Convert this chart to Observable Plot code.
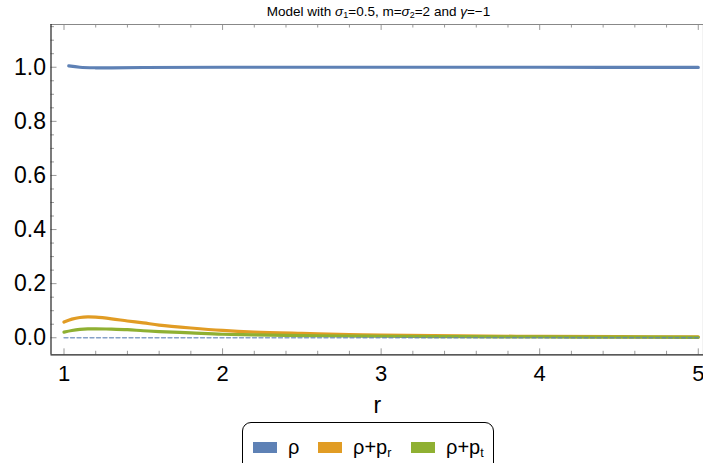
<!DOCTYPE html>
<html>
<head>
<meta charset="utf-8">
<script src="https://cdn.jsdelivr.net/npm/d3@7"></script>
<script src="https://cdn.jsdelivr.net/npm/@observablehq/plot@0.6"></script>
<style>
  body { margin: 0; background: #fff; font-family: "Liberation Sans", Arial, sans-serif; }
  #wrap { position: relative; width: 703px; height: 463px; overflow: hidden; }
  #title { position: absolute; top: 4px; left: 52px; width: 653px; text-align: center; font-size: 13.5px; color: #000; white-space: nowrap; }
  #title sub { font-size: 9px; vertical-align: -2px; line-height: 0; }
  #legend { position: absolute; left: 242px; top: 422px; width: 252px; height: 60px; border: 1px solid #000; border-radius: 9px; box-sizing: border-box; }
  .item { position: absolute; top: 13px; display: flex; align-items: center; font-size: 20px; color: #000; }
  .sw { width: 24px; height: 11px; margin-right: 11px; }
  .item sub { font-size: 12.5px; vertical-align: -3px; line-height: 0; }
</style>
</head>
<body>
<div id="wrap">
  <div id="chart"></div>
  <div id="title">Model with <i>σ</i><sub>1</sub>=0.5, m=<i>σ</i><sub>2</sub>=2 and <i>γ</i>=−1</div>
  <div id="legend"></div>
</div>
<script>
// ---- data ----
const rRho = [1.03, 1.1, 1.2, 1.3, 1.5, 2.0, 3.0, 4.0, 5.0];
const rho  = [1.005, 1.0, 0.998, 0.998, 0.999, 1.0, 1.0, 1.0, 0.9995];

const rVals  = [1.0, 1.05, 1.1, 1.15, 1.2, 1.3, 1.4, 1.5, 1.6, 1.8, 2.0, 2.2, 2.5, 2.8, 3.0, 3.5, 4.0, 4.5, 5.0];
const rhoPr  = [0.058, 0.069, 0.075, 0.077, 0.076, 0.070, 0.062, 0.055, 0.047, 0.036, 0.027, 0.021, 0.016, 0.012, 0.010, 0.007, 0.005, 0.004, 0.003];
const rhoPt  = [0.021, 0.027, 0.031, 0.033, 0.033, 0.032, 0.030, 0.026, 0.023, 0.018, 0.013, 0.011, 0.008, 0.0065, 0.0055, 0.004, 0.003, 0.0022, 0.0017];

const seriesNames = ["ρ", "ρ+p_r", "ρ+p_t"];
const seriesColors = ["#5e81b5", "#e19c24", "#8fb032"];

const xTicks = [1, 2, 3, 4, 5];
const yTicks = [0, 0.2, 0.4, 0.6, 0.8, 1.0];
const xDomain = [0.918, 5.033];
const yDomain = [-0.063, 1.158];

// ---- build tables ----
const rhoData = rRho.map((r, i) => ({r, v: rho[i]}));
const prData = rVals.map((r, i) => ({r, v: rhoPr[i]}));
const ptData = rVals.map((r, i) => ({r, v: rhoPt[i]}));
const zeroData = [{r: 1.0, v: 0}, {r: 5.0, v: 0}];

const xMinor = d3.range(1, 5.0001, 0.2).map(d => +d.toFixed(2)).filter(d => !xTicks.includes(d));
const yMinor = d3.range(0, 1.1501, 0.05).map(d => +d.toFixed(2)).filter(d => !yTicks.map(t => +t.toFixed(2)).includes(d));

const xMaj = 0.022, xMin = 0.013;       // tick lengths in y units (for x ticks)
const yMaj = 0.038, yMin = 0.022;       // tick lengths in x units (for y ticks)
const tickColor = "#999";

const plot = Plot.plot({
  width: 703,
  height: 463,
  marginLeft: 50.5,
  marginRight: 0,
  marginTop: 24,
  marginBottom: 108.7,
  style: {fontFamily: "Liberation Sans, Arial, sans-serif", background: "#fff"},
  x: {domain: xDomain},
  y: {domain: yDomain},
  marks: [
    Plot.axisX({ticks: xTicks, tickSize: 0, tickPadding: 11, fontSize: 22, tickFormat: d => String(d), label: null, color: "#000"}),
    Plot.axisY({ticks: yTicks, tickSize: 0, tickPadding: 5, fontSize: 23, tickFormat: d3.format(".1f"), label: null, color: "#000"}),
    Plot.ruleX(xTicks, {x: d => d, y1: yDomain[0], y2: yDomain[0] + xMaj, stroke: tickColor}),
    Plot.ruleX(xMinor, {x: d => d, y1: yDomain[0], y2: yDomain[0] + xMin, stroke: tickColor}),
    Plot.ruleX(xTicks, {x: d => d, y1: yDomain[1], y2: yDomain[1] - xMaj, stroke: tickColor}),
    Plot.ruleX(xMinor, {x: d => d, y1: yDomain[1], y2: yDomain[1] - xMin, stroke: tickColor}),
    Plot.ruleY(yTicks, {y: d => d, x1: xDomain[0], x2: xDomain[0] + yMaj, stroke: tickColor}),
    Plot.ruleY(yMinor, {y: d => d, x1: xDomain[0], x2: xDomain[0] + yMin, stroke: tickColor}),
    Plot.ruleY([yDomain[1]], {stroke: "#888", strokeWidth: 1.2}),
    Plot.ruleY([yDomain[0]], {stroke: "#222", strokeWidth: 1.2}),
    Plot.ruleX([xDomain[0]], {stroke: "#222", strokeWidth: 1.2}),
    Plot.ruleX([xDomain[1]], {stroke: "#888", strokeWidth: 1.2}),
    Plot.line(rhoData, {x: "r", y: "v", stroke: seriesColors[0], strokeWidth: 3.2, curve: "catmull-rom"}),
    Plot.line(prData, {x: "r", y: "v", stroke: seriesColors[1], strokeWidth: 3.2, curve: "catmull-rom"}),
    Plot.line(ptData, {x: "r", y: "v", stroke: seriesColors[2], strokeWidth: 3.2, curve: "catmull-rom"}),
    Plot.line(zeroData, {x: "r", y: "v", stroke: "#5e81b5", strokeOpacity: 0.75, strokeWidth: 1.3, strokeDasharray: "4,2.5"}),
    Plot.text(["r"], {frameAnchor: "bottom", lineAnchor: "top", dy: 42, fontSize: 23, fill: "#000"})
  ]
});
document.getElementById("chart").appendChild(plot);

// ---- legend ----
const legend = document.getElementById("legend");
const lefts = [10, 75, 168];
const labels = ["ρ", "ρ+p<sub>r</sub>", "ρ+p<sub>t</sub>"];
seriesNames.forEach((name, i) => {
  const it = document.createElement("div");
  it.className = "item";
  it.style.left = lefts[i] + "px";
  it.innerHTML = `<span class="sw" style="background:${seriesColors[i]}"></span><span>${labels[i]}</span>`;
  legend.appendChild(it);
});
</script>
</body>
</html>
